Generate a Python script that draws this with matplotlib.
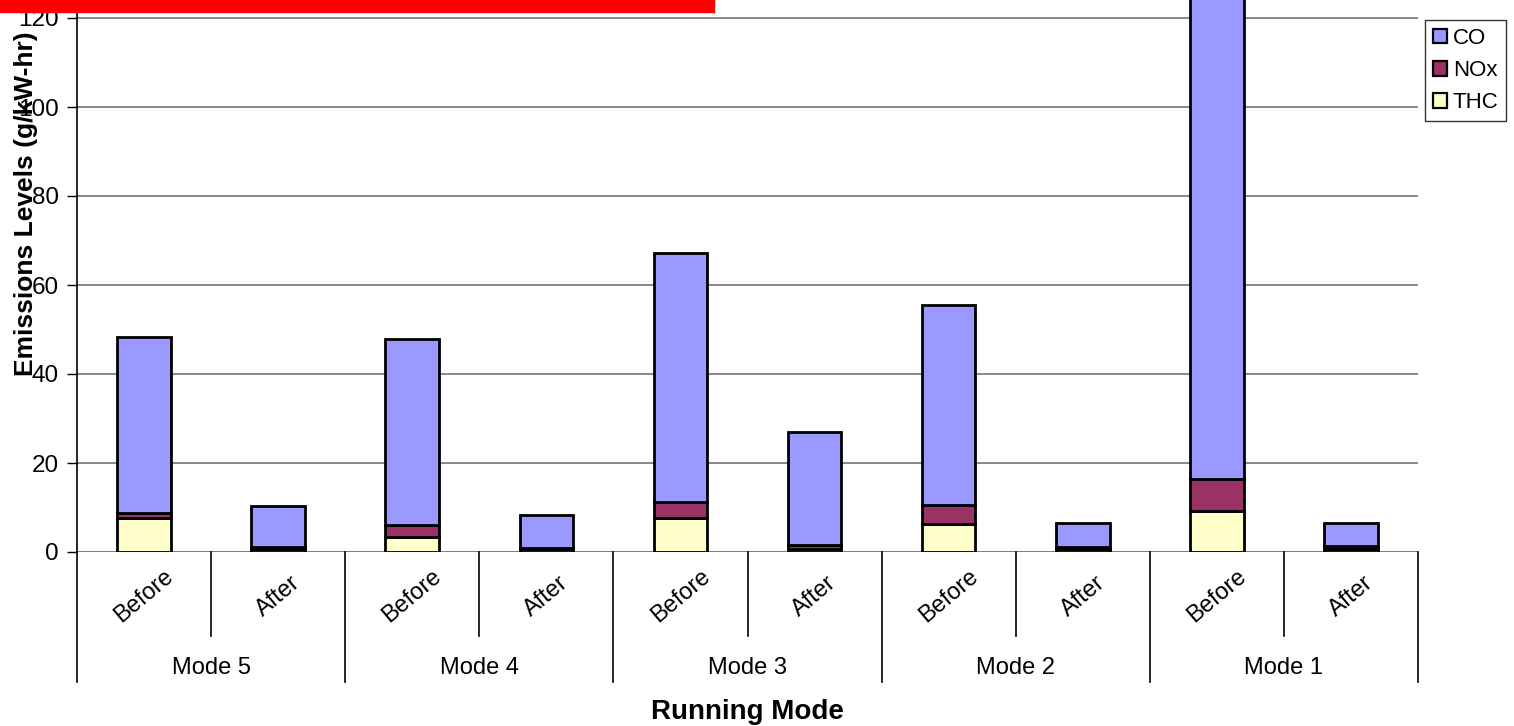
import matplotlib.pyplot as plt
import numpy as np
from matplotlib.patches import Rectangle
from matplotlib.lines import Line2D

modes = ['Mode 5', 'Mode 4', 'Mode 3', 'Mode 2', 'Mode 1']
phases = ['Before', 'After']
# values per bar, in order Mode 5 Before, Mode 5 After, ... Mode 1 After
thc = [7.7, 0.7, 3.4, 0.6, 7.7, 0.75, 6.2, 0.6, 9.2, 0.7]
nox = [1.1, 0.5, 2.7, 0.4, 3.5, 0.85, 4.4, 0.5, 7.3, 0.65]
co = [39.6, 9.2, 41.8, 7.4, 56.1, 25.4, 45.0, 5.4, 118.5, 5.15]

plt.rcParams['font.family'] = ['Liberation Sans', 'DejaVu Sans']

fig = plt.figure(figsize=(15.14, 7.26), dpi=100)
W, H = 1514, 726
x0, x1, ybase = 77, 1418, 552
ax = fig.add_axes([x0 / W, 1 - ybase / H, (x1 - x0) / W, ybase / H])

x = np.arange(len(thc))
thc_a, nox_a, co_a = np.array(thc), np.array(nox), np.array(co)
kw = dict(width=0.4, edgecolor='black', linewidth=2.0, zorder=3)
ax.bar(x, thc_a, color='#FFFFCC', label='THC', **kw)
ax.bar(x, nox_a, bottom=thc_a, color='#993366', label='NOx', **kw)
ax.bar(x, co_a, bottom=thc_a + nox_a, color='#9999FF', label='CO', **kw)

ax.set_xlim(-0.5, len(x) - 0.5)
ax.set_ylim(0, ybase / 4.45)
ax.set_yticks(range(0, 121, 20))
ax.tick_params(axis='y', labelsize=17.5, length=7, width=1, direction='out', pad=6)
ax.set_xticks([])
ax.grid(axis='y', color='#808080', linewidth=1.3, zorder=0)
for s in ['top', 'right', 'bottom']:
    ax.spines[s].set_visible(False)
ax.spines['left'].set_linewidth(1.2)
ax.axhline(0, color='#808080', linewidth=1.4, zorder=2)

# category axis (two levels)
def fx(v):
    return (x0 + (v + 0.5) * (x1 - x0) / len(x)) / W

def fy(py):
    return 1 - py / H

fig.add_artist(Line2D([x0 / W, x0 / W], [fy(ybase), fy(682)], color='black', lw=1.2))
for i in range(len(x)):
    bottom = 682 if i % 2 == 1 else 636
    xx = fx(i + 0.5)
    fig.add_artist(Line2D([xx, xx], [fy(ybase), fy(bottom)], color='black', lw=1.2))
    fig.text(fx(i), fy(596), phases[i % 2], rotation=40, ha='center', va='center', fontsize=17)
for j, m in enumerate(modes):
    fig.text(fx(2 * j + 0.5), fy(668), m, ha='center', va='center', fontsize=17)

fig.text((x0 + x1) / 2 / W, fy(712), 'Running Mode', ha='center', va='center',
         fontsize=20, fontweight='bold')
fig.text(26 / W, fy(204), 'Emissions Levels (g/kW-hr)', rotation=90, ha='center',
         va='center', fontsize=19, fontweight='bold')

h, l = ax.get_legend_handles_labels()
leg = fig.legend(h[::-1], l[::-1], loc='upper left', bbox_to_anchor=(1425 / W, fy(20)),
                 fontsize=16, frameon=True, fancybox=False, edgecolor='black',
                 handlelength=0.65, handleheight=0.65, handletextpad=0.25,
                 borderpad=0.35, labelspacing=0.5, borderaxespad=0)
leg.get_frame().set_linewidth(1.0)
for p in leg.get_patches():
    p.set_linewidth(1.6)

# red banner at top left
fig.add_artist(Rectangle((0, fy(12)), 714 / W, 12 / H, color='#FF0000', transform=fig.transFigure))

fig.savefig('out.png', dpi=100)
